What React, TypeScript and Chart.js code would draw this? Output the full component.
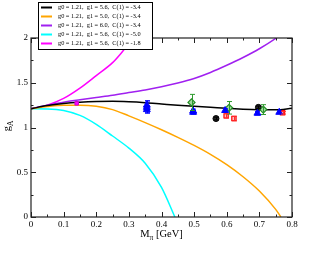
import React, { useEffect, useRef } from 'react';
import { Chart, registerables } from 'chart.js';

Chart.register(...registerables);

const SERIF = "'Liberation Serif', 'Times New Roman', serif";

// Axis tick labels
const xTickLabels = ['0', '0.1', '0.2', '0.3', '0.4', '0.5', '0.6', '0.7', '0.8'];
const yTickLabels = ['0', '0.5', '1', '1.5', '2'];

// Fit curves (legend labels)
const curveLabels = [
  'g0 = 1.21,  g1 = 5.6,  C(1) = -3.4',
  'g0 = 1.21,  g1 = 5.0,  C(1) = -3.4',
  'g0 = 1.21,  g1 = 6.0,  C(1) = -3.4',
  'g0 = 1.21,  g1 = 5.6,  C(1) = -5.0',
  'g0 = 1.21,  g1 = 5.6,  C(1) = -1.8',
];
const curveColors = ['#000000', '#ffa500', '#a020f0', '#00ffff', '#ff00ff'];

const blackCurveX = [0, 0.05, 0.1, 0.15, 0.2, 0.25, 0.3, 0.35, 0.4, 0.45, 0.5, 0.55, 0.6, 0.65, 0.7, 0.75, 0.8];
const blackCurveY = [1.21, 1.245, 1.268, 1.282, 1.29, 1.292, 1.287, 1.277, 1.263, 1.249, 1.237, 1.226, 1.214, 1.205, 1.199, 1.197, 1.215];

const orangeCurveX = [0, 0.05, 0.1, 0.15, 0.2, 0.25, 0.3, 0.35, 0.4, 0.45, 0.5, 0.55, 0.6, 0.65, 0.7, 0.75, 0.766];
const orangeCurveY = [1.21, 1.235, 1.25, 1.25, 1.238, 1.2, 1.13, 1.055, 0.975, 0.89, 0.8, 0.7, 0.585, 0.45, 0.29, 0.085, 0];

const purpleCurveX = [0, 0.05, 0.1, 0.15, 0.2, 0.25, 0.3, 0.35, 0.4, 0.45, 0.5, 0.55, 0.6, 0.65, 0.7, 0.75, 0.77];
const purpleCurveY = [1.21, 1.248, 1.283, 1.31, 1.335, 1.36, 1.39, 1.42, 1.455, 1.497, 1.548, 1.615, 1.695, 1.782, 1.88, 1.995, 2.05];

const cyanCurveX = [0, 0.05, 0.1, 0.15, 0.2, 0.25, 0.3, 0.35, 0.4, 0.441];
const cyanCurveY = [1.21, 1.208, 1.19, 1.135, 1.035, 0.905, 0.77, 0.6, 0.33, 0];

const magentaCurveX = [0, 0.05, 0.1, 0.15, 0.2, 0.25, 0.275, 0.3, 0.32];
const magentaCurveY = [1.21, 1.25, 1.325, 1.44, 1.58, 1.725, 1.825, 1.94, 2.05];

// Lattice / data points
const blueX = [0.355, 0.355, 0.355, 0.497, 0.497, 0.595, 0.694, 0.761];
const blueY = [1.2, 1.225, 1.25, 1.17, 1.185, 1.19, 1.16, 1.17];
const blueErr = [0.04, 0.06, 0.05, 0.02, 0.02, 0.02, 0.02, 0.015];

const greenX = [0.492, 0.607, 0.712];
const greenY = [1.28, 1.22, 1.2];
const greenErr = [0.09, 0.07, 0.055];

const redX = [0.598, 0.622, 0.771];
const redY = [1.13, 1.1, 1.165];
const redErr = [0.025, 0.025, 0.015];

const blackPtX = [0.567, 0.697];
const blackPtY = [1.1, 1.225];
const blackPtErr = [0.015, 0.015];

const physX = [0.14];
const physY = [1.27];

const pts = (xs: number[], ys: number[]) => xs.map((x, i) => ({ x, y: ys[i] }));

const errorBarPlugin = {
  id: 'errorBars',
  afterDatasetsDraw(chart: any) {
    const { ctx, scales } = chart;
    const xs = scales.x, ys = scales.y;
    ctx.save();
    ctx.beginPath();
    ctx.rect(chart.chartArea.left, chart.chartArea.top, chart.chartArea.right - chart.chartArea.left, chart.chartArea.bottom - chart.chartArea.top);
    ctx.clip();
    chart.data.datasets.forEach((ds: any) => {
      if (!ds.errors) return;
      ctx.strokeStyle = ds.errColor || ds.borderColor;
      ctx.lineWidth = 1;
      ds.data.forEach((p: any, j: number) => {
        const e = ds.errors[j];
        if (!e) return;
        const px = Math.round(xs.getPixelForValue(p.x)) + 0.5;
        const y1 = ys.getPixelForValue(p.y + e);
        const y2 = ys.getPixelForValue(p.y - e);
        ctx.beginPath();
        ctx.moveTo(px, y1);
        ctx.lineTo(px, y2);
        ctx.moveTo(px - 2.5, y1);
        ctx.lineTo(px + 2.5, y1);
        ctx.moveTo(px - 2.5, y2);
        ctx.lineTo(px + 2.5, y2);
        ctx.stroke();
      });
    });
    ctx.restore();
  },
};

const framePlugin = {
  id: 'frame',
  afterDraw(chart: any) {
    const { ctx, chartArea: a, scales } = chart;
    const xs = scales.x, ys = scales.y;
    ctx.save();
    ctx.strokeStyle = '#222';
    ctx.lineWidth = 1.2;
    ctx.strokeRect(a.left, a.top, a.right - a.left, a.bottom - a.top);
    ctx.lineWidth = 1;
    const xv = xs.ticks.map((t: any) => t.value);
    const yv = ys.ticks.map((t: any) => t.value);
    const drawX = (v: number, len: number) => {
      const p = Math.round(xs.getPixelForValue(v)) + 0.5;
      ctx.beginPath();
      ctx.moveTo(p, a.bottom);
      ctx.lineTo(p, a.bottom - len);
      ctx.moveTo(p, a.top);
      ctx.lineTo(p, a.top + len);
      ctx.stroke();
    };
    const drawY = (v: number, len: number) => {
      const p = Math.round(ys.getPixelForValue(v)) + 0.5;
      ctx.beginPath();
      ctx.moveTo(a.left, p);
      ctx.lineTo(a.left + len, p);
      ctx.moveTo(a.right, p);
      ctx.lineTo(a.right - len, p);
      ctx.stroke();
    };
    xv.forEach((v: number, i: number) => {
      drawX(v, 5);
      if (i < xv.length - 1) drawX((v + xv[i + 1]) / 2, 2.5);
    });
    yv.forEach((v: number, i: number) => {
      drawY(v, 5);
      if (i < yv.length - 1) drawY((v + yv[i + 1]) / 2, 2.5);
    });

    // axis titles
    ctx.fillStyle = '#000';
    ctx.textBaseline = 'alphabetic';
    ctx.textAlign = 'left';
    const cx = (a.left + a.right) / 2;
    ctx.font = `10.5px ${SERIF}`;
    const wM = ctx.measureText('M').width;
    const wRest = ctx.measureText(' [GeV]').width;
    ctx.font = `7.5px ${SERIF}`;
    const wPi = ctx.measureText('π').width;
    const total = wM + wPi + wRest;
    const x0 = cx - total / 2;
    const base = 237;
    ctx.font = `10.5px ${SERIF}`;
    ctx.fillText('M', x0, base);
    ctx.font = `7.5px ${SERIF}`;
    ctx.fillText('π', x0 + wM, base + 2.5);
    ctx.font = `10.5px ${SERIF}`;
    ctx.fillText(' [GeV]', x0 + wM + wPi, base);

    ctx.save();
    ctx.translate(10, 126);
    ctx.rotate(-Math.PI / 2);
    ctx.font = `10.5px ${SERIF}`;
    const wg = ctx.measureText('g').width;
    ctx.font = `7.5px ${SERIF}`;
    const wA = ctx.measureText('A').width;
    const tw = wg + wA;
    ctx.font = `10.5px ${SERIF}`;
    ctx.fillText('g', -tw / 2, 0);
    ctx.font = `7.5px ${SERIF}`;
    ctx.fillText('A', -tw / 2 + wg, 2.5);
    ctx.restore();

    // legend
    const lx = 38.5, ly = 2.5, lw = 114, lh = 47;
    ctx.fillStyle = '#fff';
    ctx.fillRect(lx, ly, lw, lh);
    ctx.strokeStyle = '#000';
    ctx.lineWidth = 1;
    ctx.strokeRect(lx, ly, lw, lh);
    ctx.font = `6.3px ${SERIF}`;
    ctx.textBaseline = 'middle';
    const curves = chart.data.datasets.filter((d: any) => d.isCurve);
    curves.forEach((d: any, i: number) => {
      const ry = 7.5 + i * 9;
      ctx.strokeStyle = d.borderColor;
      ctx.lineWidth = 2;
      ctx.beginPath();
      ctx.moveTo(41, ry);
      ctx.lineTo(52, ry);
      ctx.stroke();
      ctx.fillStyle = '#000';
      ctx.fillText(d.label, 58, ry);
    });
    ctx.restore();
  },
};

export default function App() {
  const ref = useRef<HTMLCanvasElement | null>(null);
  useEffect(() => {
    if (!ref.current) return;
    const curveXs = [blackCurveX, orangeCurveX, purpleCurveX, cyanCurveX, magentaCurveX];
    const curveYs = [blackCurveY, orangeCurveY, purpleCurveY, cyanCurveY, magentaCurveY];
    const curveSets = curveLabels.map((label, i) => ({
      label,
      isCurve: true,
      data: pts(curveXs[i], curveYs[i]),
      showLine: true,
      borderColor: curveColors[i],
      backgroundColor: curveColors[i],
      borderWidth: 1.5,
      pointRadius: 0,
      cubicInterpolationMode: 'monotone',
      order: 2,
    }));
    const chart = new Chart(ref.current, {
      type: 'scatter',
      data: {
        datasets: [
          ...curveSets,
          {
            label: 'phys',
            data: pts(physX, physY),
            pointStyle: 'rect',
            pointRadius: 2.5,
            backgroundColor: '#ff00ff',
            borderColor: '#cc00cc',
            borderWidth: 1,
            order: 0,
          },
          {
            label: 'blue',
            data: pts(blueX, blueY),
            errors: blueErr,
            pointStyle: 'triangle',
            pointRadius: 4,
            backgroundColor: '#0000ff',
            borderColor: '#0000ff',
            borderWidth: 1,
            order: 0,
          },
          {
            label: 'green',
            data: pts(greenX, greenY),
            errors: greenErr,
            errColor: '#2e9a2e',
            pointStyle: 'rectRot',
            pointRadius: 3.5,
            backgroundColor: '#9fd89f',
            borderColor: '#228b22',
            borderWidth: 1.2,
            order: 0,
          },
          {
            label: 'red',
            data: pts(redX, redY),
            errors: redErr,
            errColor: '#ff3030',
            pointStyle: 'rect',
            pointRadius: 3,
            backgroundColor: '#ffc0c0',
            borderColor: '#ff0000',
            borderWidth: 1.2,
            order: 0,
          },
          {
            label: 'black',
            data: pts(blackPtX, blackPtY),
            errors: blackPtErr,
            pointStyle: 'circle',
            pointRadius: 3,
            backgroundColor: '#222',
            borderColor: '#000',
            borderWidth: 1,
            order: 0,
          },
        ] as any,
      },
      options: {
        animation: false,
        responsive: false,
        devicePixelRatio: 1,
        layout: { padding: { left: 0, top: 38, right: 38, bottom: 0 } },
        plugins: { legend: { display: false }, tooltip: { enabled: false } },
        scales: {
          x: {
            type: 'linear',
            min: 0,
            max: 0.8,
            grid: { display: false, drawTicks: false },
            border: { display: false },
            ticks: {
              stepSize: 0.1,
              padding: 2,
              color: '#000',
              font: { family: SERIF, size: 9 },
              maxRotation: 0,
              callback: (v: any) => xTickLabels[Math.round(Number(v) * 10)] ?? '',
            },
            afterFit: (s: any) => { s.height = 38; },
          },
          y: {
            type: 'linear',
            min: 0,
            max: 2,
            grid: { display: false, drawTicks: false },
            border: { display: false },
            ticks: {
              stepSize: 0.5,
              padding: 3,
              color: '#000',
              font: { family: SERIF, size: 9 },
              callback: (v: any) => yTickLabels[Math.round(Number(v) * 2)] ?? '',
            },
            afterFit: (s: any) => { s.width = 31; },
          },
        },
      } as any,
      plugins: [errorBarPlugin, framePlugin],
    });
    return () => chart.destroy();
  }, []);
  return (
    <div style={{ position: 'fixed', left: 0, top: 0, width: 330, height: 255, background: '#fff' }}>
      <canvas ref={ref} width={330} height={255} />
    </div>
  );
}
